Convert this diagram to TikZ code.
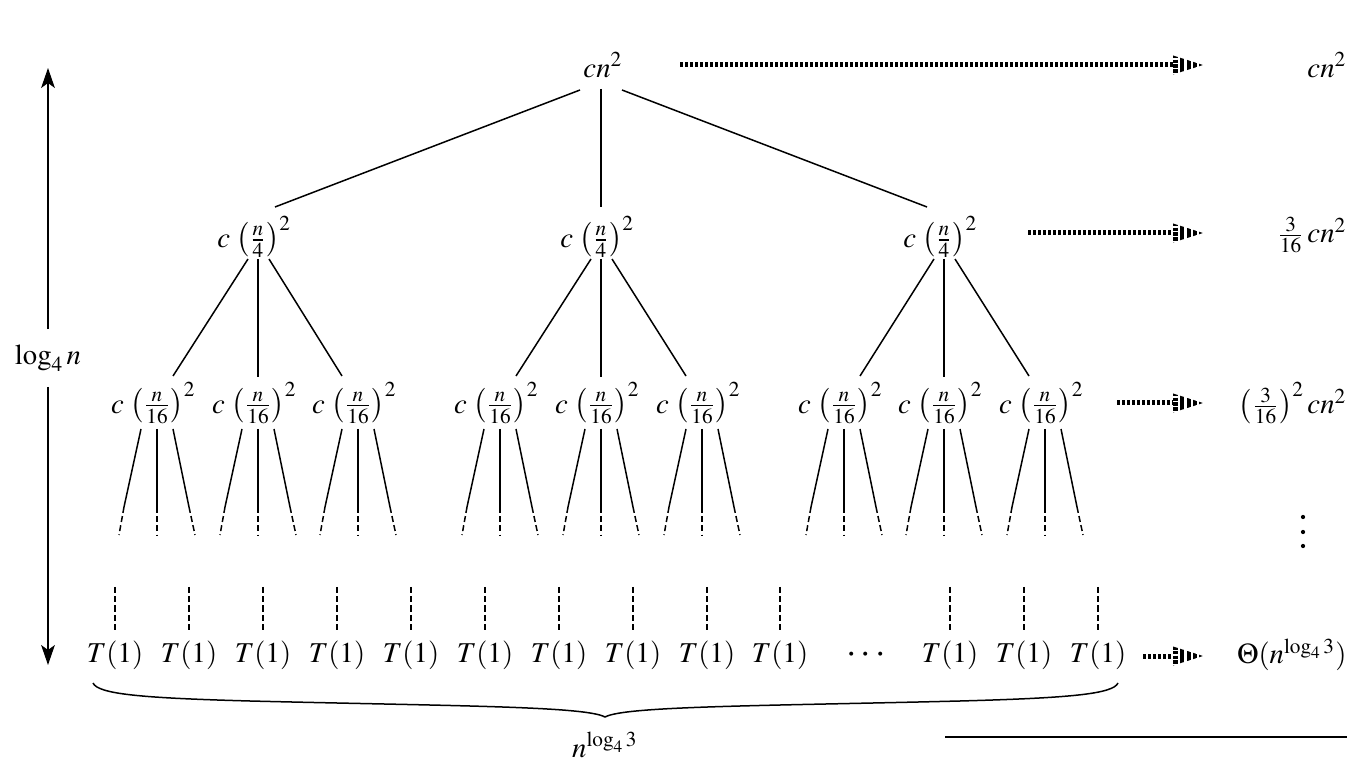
\documentclass[tikz,border=0pt]{standalone}
\usepackage{mathptmx}
\usetikzlibrary{calc,arrows.meta}
\newcommand\treefrac[1]{\llap{$c\,\left(\vphantom{\frac{n}{#1}}\right.\kern-\nulldelimiterspace$}\frac{n}{#1}\rlap{$\kern-\nulldelimiterspace\left.\vphantom{\frac{n}{#1}}\right)^{2}$}}
\tikzset{
  every node/.style={font=\fontsize{11.5}{14}\selectfont, inner sep=0pt},
  edge/.style={line width=0.6pt},
  dashedge/.style={line width=0.6pt, dash pattern=on 2.4pt off 1.3pt},
  sumline/.style={line width=2pt, dash pattern=on 1.35pt off 0.65pt},
  dotmark/.style={fill, circle, minimum size=1.7pt, inner sep=0pt},
  stripehead/.pic={
    \begin{scope}
      \clip (0,-9.5) -- (0,9.5) -- (30,0) -- cycle;
      \draw[line width=2pt, dash pattern=on 1.4pt off 0.5pt] (2.5,-10) -- (2.5,10);
      \fill (7,-10) rectangle (11,10);
      \fill (14,-10) rectangle (18,10);
      \fill (20,-10) rectangle (24,10);
      \fill (26,-10) rectangle (30,10);
    \end{scope}
  }
}
\begin{document}
\begin{tikzpicture}[x=0.4pt,y=-0.4pt]
\useasboundingbox (0,0) rectangle (1365,777);

% root
\node (root) at (603,65) {$cn^2$};
% level 1
\foreach \x [count=\i] in {258,601,944}
  \node (A\i) at (\x,237) {$\treefrac{4}$};
% level 2
\foreach \x [count=\i] in {157,258,358,500,601,702,844,944,1045}
  \node (B\i) at (\x,403) {$\treefrac{16}$};

% root edges
\draw[edge] ($(root)+(-23,25)$) -- ($(A1)+(17,-30)$);
\draw[edge] ($(root)+(-2,24)$) -- ($(A2)+(0,-30)$);
\draw[edge] ($(root)+(19,25)$) -- ($(A3)+(-17,-30)$);

% level 1 edges
\foreach \a/\l/\m/\r in {1/1/2/3, 2/4/5/6, 3/7/8/9} {
  \draw[edge] ($(A\a)+(-10,22)$) -- ($(B\l)+(16,-27)$);
  \draw[edge] ($(A\a)+(0,22)$) -- ($(B\m)+(0,-26)$);
  \draw[edge] ($(A\a)+(11,22)$) -- ($(B\r)+(-16,-27)$);
}

% level 2 edges (solid then dashed)
\foreach \i in {1,...,9} {
  \draw[edge] ($(B\i)+(-16,26)$) -- ($(B\i)+(-33,104)$);
  \draw[dashedge] ($(B\i)+(-33,104)$) -- ($(B\i)+(-38,132)$);
  \draw[edge] ($(B\i)+(0,26)$) -- ($(B\i)+(0,104)$);
  \draw[dashedge] ($(B\i)+(0,104)$) -- ($(B\i)+(0,132)$);
  \draw[edge] ($(B\i)+(16,26)$) -- ($(B\i)+(32,104)$);
  \draw[dashedge] ($(B\i)+(32,104)$) -- ($(B\i)+(38,132)$);
}

% leaves
\foreach \x [count=\i] in {115,189,263,337,411,485,559,633,707,780,950,1024,1098} {
  \node (T\i) at (\x,655) {$T(1)$};
  \draw[dashedge] ($(T\i)+(0,-68)$) -- ($(T\i)+(0,-25)$);
}
\node (dots) at (866,655) {\fontsize{15}{16}\selectfont$\cdots$};

% brace
\draw[edge] (93,683) .. controls (98,694) and (140,698) .. (250,701)
  .. controls (450,706) and (585,706) .. (605,717)
  .. controls (625,706) and (760,706) .. (960,701)
  .. controls (1070,698) and (1113,694) .. (1118,683);
\node (nl) at (605,745) {$n^{\log_4 3}$};

% height arrow
\node (lg) at (48,358) {$\log_4 n$};
\coordinate (htop) at (48,68);
\coordinate (hbot) at (48,665);
\draw[edge, shorten <=6pt, -{Stealth[length=8pt,width=5.5pt,inset=2pt]}] (lg) -- (htop);
\draw[edge, shorten <=6pt, -{Stealth[length=8pt,width=5.5pt,inset=2pt]}] (lg) -- (hbot);

% right column
\node[anchor=east] (r0) at (1347,65) {$cn^2$};
\node[anchor=east] (r1) at (1347,235) {$\frac{3}{16}\,cn^2$};
\node[anchor=east] (r2) at (1347,403) {$\left(\frac{3}{16}\right)^2 cn^2$};
\node[dotmark] (v1) at (1303,517) {};
\node[dotmark] (v2) at (1303,532) {};
\node[dotmark] (v3) at (1303,546) {};
\node[anchor=east] (r4) at (1347,655) {$\Theta(n^{\log_4 3})$};

% summation arrows
\coordinate (s0) at (680,65);   \coordinate (e0) at (1173,65);
\coordinate (s1) at (1028,233); \coordinate (e1) at (1173,233);
\coordinate (s2) at (1117,403); \coordinate (e2) at (1173,403);
\coordinate (s3) at (1143,656); \coordinate (e3) at (1173,656);
\foreach \k in {0,1,2,3} {
  \draw[sumline] (s\k) -- (e\k);
  \pic at (e\k) {stripehead};
}

% bottom rule
\coordinate (ru1) at (945,737);
\coordinate (ru2) at (1347,737);
\draw[edge] (ru1) -- (ru2);
\end{tikzpicture}
\end{document}
